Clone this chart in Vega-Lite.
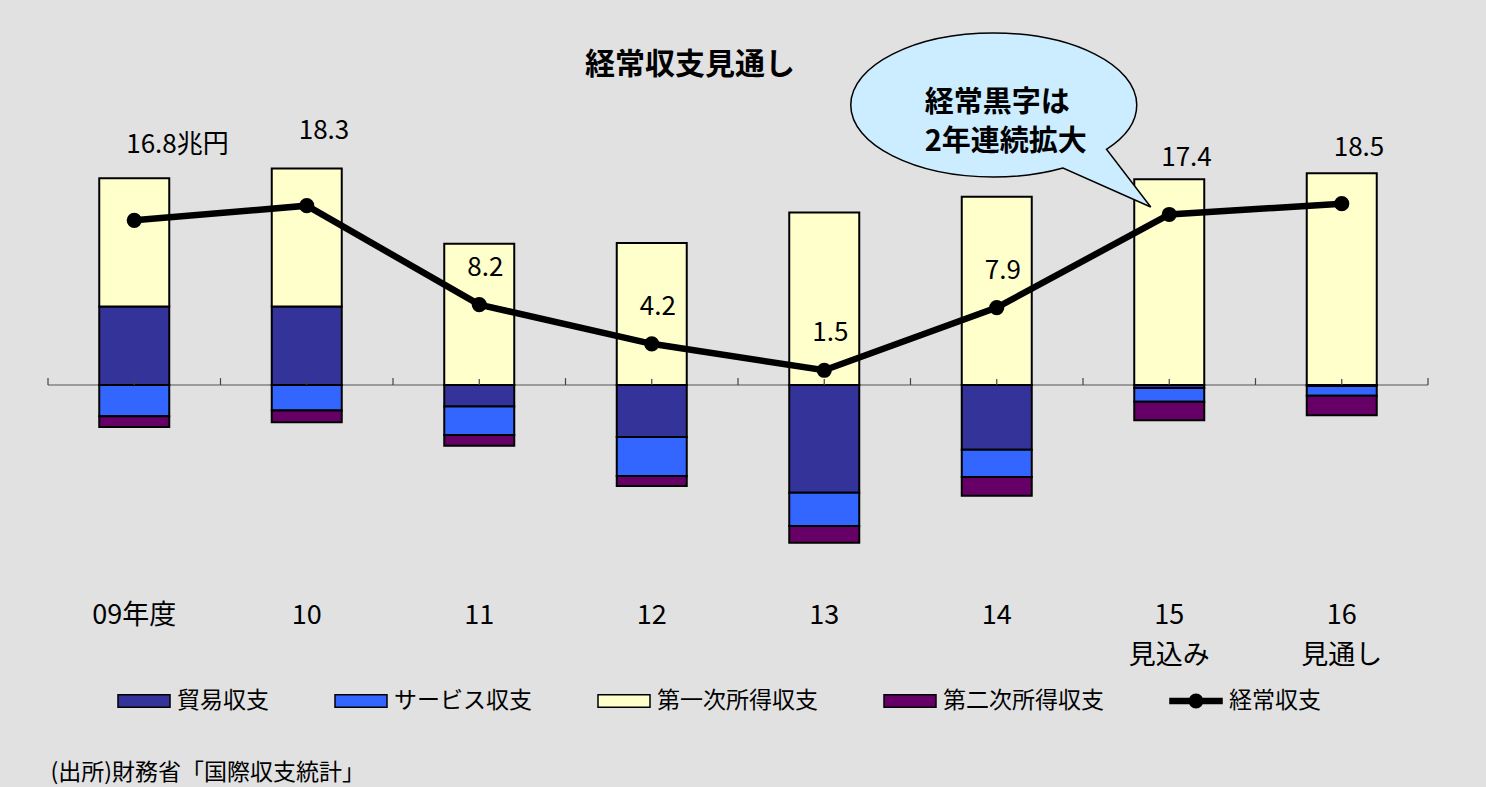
{
  "$schema": "https://vega.github.io/schema/vega-lite/v6.json",
  "width": 1380,
  "height": 490,
  "autosize": {"type": "none"},
  "padding": {"left": 48, "top": 100, "right": 58, "bottom": 197},
  "background": "#E1E1E1",
  "config": {"font": "Noto Sans CJK JP", "view": {"stroke": null}},
  "title": {"text": "経常収支見通し", "fontSize": 30, "fontWeight": "bold", "color": "black", "anchor": "middle", "dx": -48, "offset": -50},
  "datasets": {
    "bars": [
      {"year": "09年度", "series": "貿易収支", "value": 8.0},
      {"year": "09年度", "series": "サービス収支", "value": -3.2},
      {"year": "09年度", "series": "第一次所得収支", "value": 13.1},
      {"year": "09年度", "series": "第二次所得収支", "value": -1.1},
      {"year": "10", "series": "貿易収支", "value": 8.0},
      {"year": "10", "series": "サービス収支", "value": -2.6},
      {"year": "10", "series": "第一次所得収支", "value": 14.1},
      {"year": "10", "series": "第二次所得収支", "value": -1.2},
      {"year": "11", "series": "貿易収支", "value": -2.2},
      {"year": "11", "series": "サービス収支", "value": -2.9},
      {"year": "11", "series": "第一次所得収支", "value": 14.4},
      {"year": "11", "series": "第二次所得収支", "value": -1.1},
      {"year": "12", "series": "貿易収支", "value": -5.3},
      {"year": "12", "series": "サービス収支", "value": -4.0},
      {"year": "12", "series": "第一次所得収支", "value": 14.5},
      {"year": "12", "series": "第二次所得収支", "value": -1.0},
      {"year": "13", "series": "貿易収支", "value": -11.0},
      {"year": "13", "series": "サービス収支", "value": -3.4},
      {"year": "13", "series": "第一次所得収支", "value": 17.6},
      {"year": "13", "series": "第二次所得収支", "value": -1.7},
      {"year": "14", "series": "貿易収支", "value": -6.6},
      {"year": "14", "series": "サービス収支", "value": -2.8},
      {"year": "14", "series": "第一次所得収支", "value": 19.2},
      {"year": "14", "series": "第二次所得収支", "value": -1.9},
      {"year": "15 見込み", "series": "貿易収支", "value": -0.3},
      {"year": "15 見込み", "series": "サービス収支", "value": -1.4},
      {"year": "15 見込み", "series": "第一次所得収支", "value": 21.0},
      {"year": "15 見込み", "series": "第二次所得収支", "value": -1.9},
      {"year": "16 見通し", "series": "貿易収支", "value": -0.1},
      {"year": "16 見通し", "series": "サービス収支", "value": -1.0},
      {"year": "16 見通し", "series": "第一次所得収支", "value": 21.6},
      {"year": "16 見通し", "series": "第二次所得収支", "value": -2.0}
    ],
    "current": [
      {"year": "09年度", "current": 16.8, "label": "16.8兆円"},
      {"year": "10", "current": 18.3, "label": "18.3"},
      {"year": "11", "current": 8.2, "label": "8.2"},
      {"year": "12", "current": 4.2, "label": "4.2"},
      {"year": "13", "current": 1.5, "label": "1.5"},
      {"year": "14", "current": 7.9, "label": "7.9"},
      {"year": "15 見込み", "current": 17.4, "label": "17.4"},
      {"year": "16 見通し", "current": 18.5, "label": "18.5"}
    ],
    "legendKeys": [
      {"series": "貿易収支"},
      {"series": "サービス収支"},
      {"series": "第一次所得収支"},
      {"series": "第二次所得収支"},
      {"series": "経常収支"}
    ],
    "note": [
      {"year": "14", "y": 28.57}
    ]
  },
  "layer": [
    {
      "data": {"values": [{}]},
      "mark": {"type": "rule", "color": "#555555", "strokeWidth": 1.2},
      "encoding": {
        "y": {"datum": 0, "type": "quantitative", "scale": {"domain": [-20.92, 29.08], "nice": false}, "axis": null}
      }
    },
    {
      "data": {"name": "bars"},
      "transform": [
        {"calculate": "indexof(['貿易収支','サービス収支','第一次所得収支','第二次所得収支'], datum['series'])", "as": "ord"}
      ],
      "mark": {"type": "bar", "width": 70, "stroke": "black", "strokeWidth": 2},
      "encoding": {
        "x": {
          "field": "year", "type": "nominal",
          "scale": {"domain": ["09年度", "10", "11", "12", "13", "14", "15 見込み", "16 見通し"], "paddingInner": 0, "paddingOuter": 0},
          "axis": {
            "title": "(出所)財務省「国際収支統計」",
            "titleX": 2, "titleY": 182, "titleAnchor": "start", "titleAlign": "left", "titleBaseline": "middle",
            "titleFontSize": 23, "titleFontWeight": "normal", "titleColor": "black",
            "domain": false, "ticks": false, "grid": false, "labelAngle": 0, "labelFontSize": 27, "labelColor": "black",
            "labelPadding": 12, "labelBaseline": "top", "labelLineHeight": 40,
            "labelExpr": "split(datum.label, ' ')"
          }
        },
        "y": {"field": "value", "type": "quantitative", "stack": "zero", "scale": {"domain": [-20.92, 29.08], "nice": false}, "axis": null},
        "color": {
          "field": "series", "type": "nominal",
          "scale": {"domain": ["貿易収支", "サービス収支", "第一次所得収支", "第二次所得収支", "経常収支"], "range": ["#333399", "#3366FF", "#FFFFCC", "#660066", "#000000"]}
        },
        "order": {"field": "ord", "type": "quantitative"}
      }
    },
    {
      "data": {"name": "current"},
      "mark": {"type": "rule", "color": "#444444", "strokeWidth": 1.2},
      "encoding": {
        "x": {"field": "year", "type": "nominal", "bandPosition": 0},
        "y": {"datum": 0, "type": "quantitative", "axis": null},
        "y2": {"datum": 0.7}
      }
    },
    {
      "data": {"name": "current"},
      "mark": {"type": "rule", "color": "#444444", "strokeWidth": 1.2},
      "encoding": {
        "x": {"field": "year", "type": "nominal", "bandPosition": 0.5},
        "y": {"datum": 0, "type": "quantitative", "axis": null},
        "y2": {"datum": 0.6}
      }
    },
    {
      "data": {"name": "current"},
      "transform": [{"filter": "datum.year == '16 見通し'"}],
      "mark": {"type": "rule", "color": "#444444", "strokeWidth": 1.2},
      "encoding": {
        "x": {"field": "year", "type": "nominal", "bandPosition": 1},
        "y": {"datum": 0, "type": "quantitative", "axis": null},
        "y2": {"datum": 0.7}
      }
    },
    {
      "data": {"name": "note"},
      "mark": {
        "type": "point", "filled": true, "size": 40000, "color": "#CCECFF", "stroke": "black", "strokeWidth": 1.5, "opacity": 1,
        "shape": "M1.40,0C1.40,-0.398 0.760,-0.72 -0.03,-0.72C-0.820,-0.72 -1.46,-0.398 -1.46,0C-1.46,0.398 -0.820,0.72 -0.03,0.72C0.212,0.72 0.451,0.689 0.663,0.630L1.54,1.02L1.097,0.443C1.294,0.317 1.40,0.161 1.40,0Z"
      },
      "encoding": {
        "x": {"field": "year", "type": "nominal"},
        "y": {"field": "y", "type": "quantitative", "axis": null}
      }
    },
    {
      "data": {"name": "note"},
      "mark": {"type": "text", "text": ["経常黒字は", "2年連続拡大"], "align": "left", "baseline": "middle", "dx": -72, "dy": -2, "fontSize": 29, "fontWeight": "bold", "lineHeight": 39, "color": "black"},
      "encoding": {
        "x": {"field": "year", "type": "nominal"},
        "y": {"field": "y", "type": "quantitative", "axis": null}
      }
    },
    {
      "data": {"name": "current"},
      "mark": {"type": "line", "color": "black", "strokeWidth": 6.5, "point": {"filled": true, "size": 230, "color": "black"}},
      "encoding": {
        "x": {"field": "year", "type": "nominal"},
        "y": {"field": "current", "type": "quantitative", "axis": null}
      }
    },
    {
      "data": {"name": "current"},
      "transform": [{"filter": "datum.year == '09年度' || datum.year == '10'"}],
      "mark": {"type": "text", "align": "left", "baseline": "middle", "dx": -8, "dy": -75, "fontSize": 26, "color": "black"},
      "encoding": {
        "x": {"field": "year", "type": "nominal"},
        "y": {"field": "current", "type": "quantitative", "axis": null},
        "text": {"field": "label", "type": "nominal"}
      }
    },
    {
      "data": {"name": "current"},
      "transform": [{"filter": "datum.year == '15 見込み' || datum.year == '16 見通し'"}],
      "mark": {"type": "text", "align": "left", "baseline": "middle", "dx": -8, "dy": -56, "fontSize": 26, "color": "black"},
      "encoding": {
        "x": {"field": "year", "type": "nominal"},
        "y": {"field": "current", "type": "quantitative", "axis": null},
        "text": {"field": "label", "type": "nominal"}
      }
    },
    {
      "data": {"name": "current"},
      "transform": [{"filter": "datum.year == '11' || datum.year == '12' || datum.year == '13' || datum.year == '14'"}],
      "mark": {"type": "text", "align": "left", "baseline": "middle", "dx": -12, "dy": -37, "fontSize": 26, "color": "black"},
      "encoding": {
        "x": {"field": "year", "type": "nominal"},
        "y": {"field": "current", "type": "quantitative", "axis": null},
        "text": {"field": "label", "type": "nominal"}
      }
    },
    {
      "data": {"name": "legendKeys"},
      "mark": {"type": "point", "filled": true, "opacity": 0},
      "encoding": {
        "color": {
          "field": "series", "type": "nominal",
          "scale": {"domain": ["貿易収支", "サービス収支", "第一次所得収支", "第二次所得収支", "経常収支"], "range": ["#333399", "#3366FF", "#FFFFCC", "#660066", "#000000"]},
          "legend": {
            "orient": "none", "legendX": 69, "legendY": 574, "direction": "horizontal", "title": null,
            "labelFontSize": 23, "labelColor": "black", "labelOffset": 6, "columnPadding": 63, "symbolSize": 2704,
            "padding": 0, "labelLimit": 400,
            "encode": {"symbols": {"update": {"opacity": {"value": 1}, "fillOpacity": {"value": 1}, "strokeOpacity": {"value": 1}, "stroke": {"value": "black"}, "strokeWidth": {"value": 1.5}}}}
          }
        },
        "shape": {
          "field": "series", "type": "nominal",
          "scale": {
            "domain": ["貿易収支", "サービス収支", "第一次所得収支", "第二次所得収支", "経常収支"],
            "range": [
              "M-1,-0.24H1V0.24H-1Z",
              "M-1,-0.24H1V0.24H-1Z",
              "M-1,-0.24H1V0.24H-1Z",
              "M-1,-0.24H1V0.24H-1Z",
              "M-1,-0.1H1V0.1H-1ZM0.26,0C0.26,0.144 0.144,0.26 0,0.26C-0.144,0.26 -0.26,0.144 -0.26,0C-0.26,-0.144 -0.144,-0.26 0,-0.26C0.144,-0.26 0.26,-0.144 0.26,0Z"
            ]
          },
          "legend": {
            "orient": "none", "legendX": 69, "legendY": 574, "direction": "horizontal", "title": null,
            "labelFontSize": 23, "labelColor": "black", "labelOffset": 6, "columnPadding": 63, "symbolSize": 2704,
            "padding": 0, "labelLimit": 400,
            "encode": {"symbols": {"update": {"opacity": {"value": 1}, "fillOpacity": {"value": 1}, "strokeOpacity": {"value": 1}, "stroke": {"value": "black"}, "strokeWidth": {"value": 1.5}}}}
          }
        }
      }
    }
  ]
}
